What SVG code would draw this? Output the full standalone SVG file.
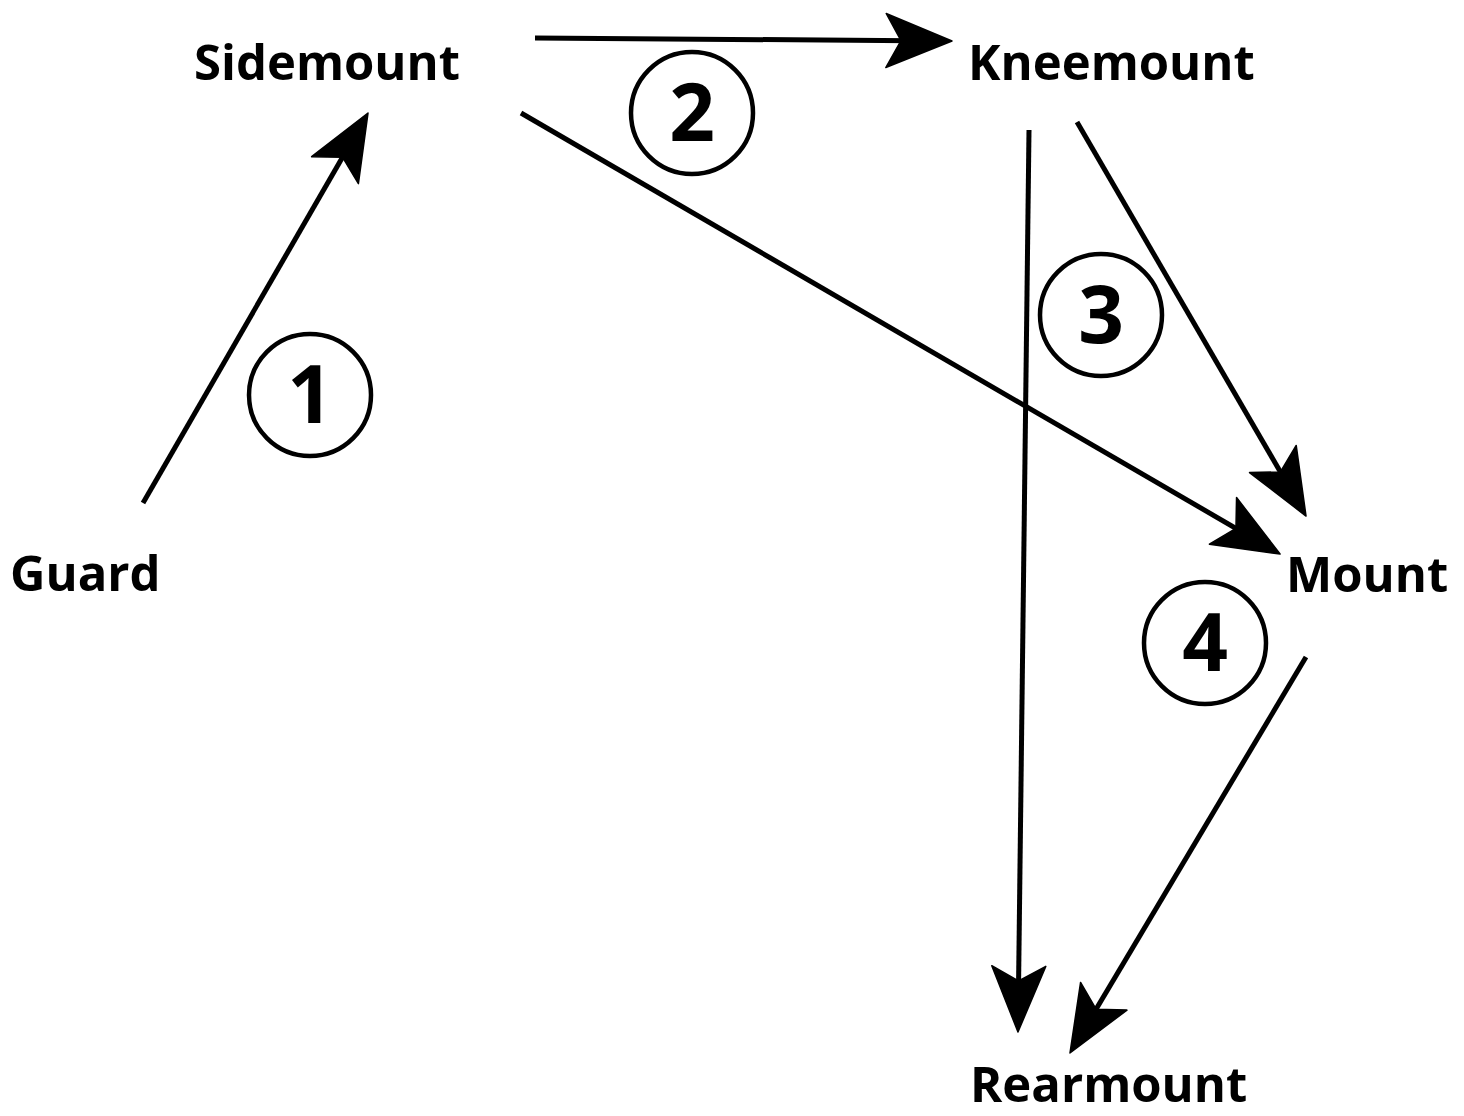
<svg xmlns="http://www.w3.org/2000/svg" width="1464" height="1116" viewBox="0 0 1464 1116">
<style>
.lbl{font-family:"Open Sans","Noto Sans","Liberation Sans",sans-serif;font-weight:700;font-size:49px;fill:#000}
.num{font-family:"Open Sans","Noto Sans","Liberation Sans",sans-serif;font-weight:700;font-size:80px;fill:#000;text-anchor:middle}
.ring{fill:none;stroke:#000;stroke-width:4.5}
.edge{fill:none;stroke:#000;stroke-width:5;marker-end:url(#ah)}
</style>
<defs>
<marker id="ah" markerUnits="userSpaceOnUse" viewBox="-72 -32 80 64" markerWidth="80" markerHeight="64" refX="-10" refY="0" orient="auto" overflow="visible">
<path d="M0,0 L-66,-27 L-51,0 L-66,27 Z" fill="#000" stroke="#000" stroke-width="1.5" stroke-linejoin="round"/>
</marker>
</defs>
<rect width="1464" height="1116" fill="#fff"/>
<g id="connectors">
<line class="edge" x1="143" y1="503" x2="363" y2="121.7"/>
<line class="edge" x1="535" y1="38" x2="942" y2="40.9"/>
<line class="edge" x1="521" y1="113" x2="1271.4" y2="549"/>
<line class="edge" x1="1077" y1="122" x2="1301" y2="507.4"/>
<line class="edge" x1="1029" y1="130" x2="1018.1" y2="1022"/>
<line class="edge" x1="1306" y1="657" x2="1075.1" y2="1044.4"/>
</g>
<g id="guard"><text class="lbl" x="10" y="591">Guard</text></g>
<g id="sidemount"><text class="lbl" x="194" y="80">Sidemount</text></g>
<g id="kneemount"><text class="lbl" x="968" y="80">Kneemount</text></g>
<g id="mount"><text class="lbl" x="1286" y="592">Mount</text></g>
<g id="rearmount"><text class="lbl" x="970" y="1102">Rearmount</text></g>
<g id="step1"><circle class="ring" cx="310" cy="395" r="61"/><text class="num" x="310" y="423">1</text></g>
<g id="step2"><circle class="ring" cx="692" cy="113" r="61"/><text class="num" x="692" y="141">2</text></g>
<g id="step3"><circle class="ring" cx="1101" cy="315" r="61"/><text class="num" x="1101" y="343">3</text></g>
<g id="step4"><circle class="ring" cx="1205" cy="643" r="61"/><text class="num" x="1205" y="671">4</text></g>
</svg>
